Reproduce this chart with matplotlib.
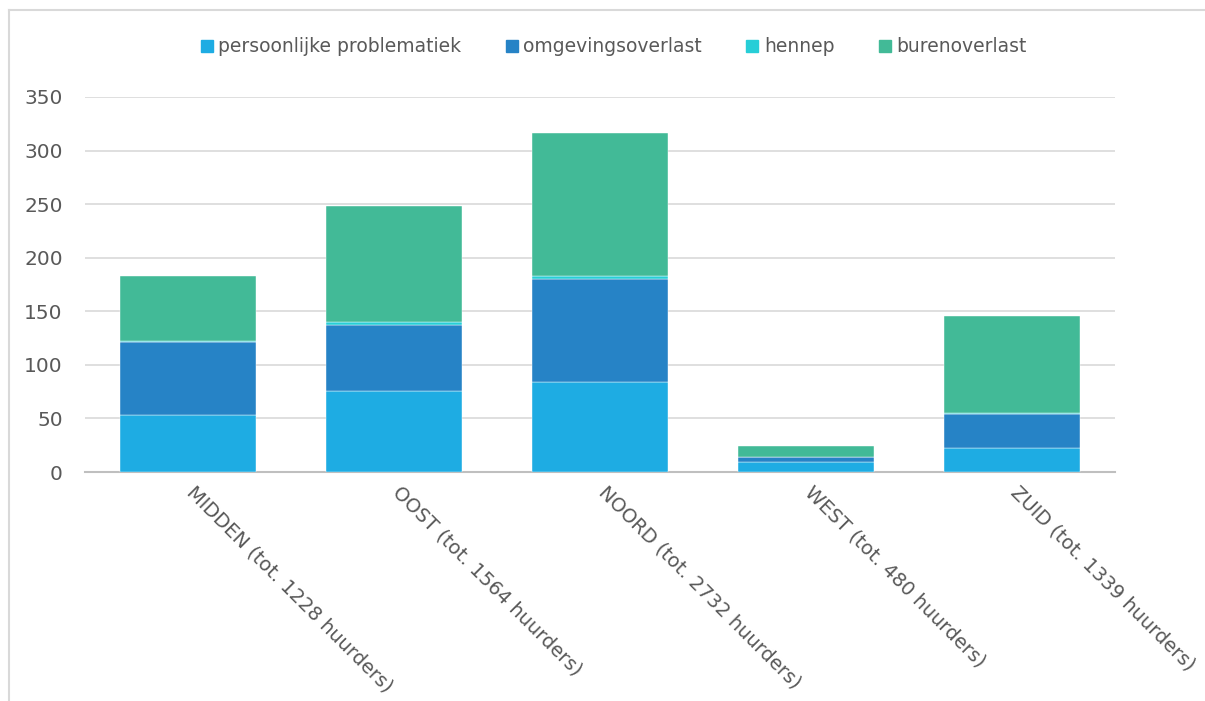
import matplotlib
matplotlib.use("Agg")
import matplotlib.pyplot as plt
from matplotlib.lines import Line2D
import matplotlib.transforms as mtransforms
import numpy as np

categories = ["MIDDEN (tot. 1228 huurders)", "OOST (tot. 1564 huurders)",
              "NOORD (tot. 2732 huurders)", "WEST (tot. 480 huurders)",
              "ZUID (tot. 1339 huurders)"]
series_names = ["persoonlijke problematiek", "omgevingsoverlast", "hennep", "burenoverlast"]
persoonlijke = [53, 76, 84, 9, 22]
omgeving = [68, 61, 96, 5, 32]
hennep = [1, 3, 3, 0, 1]
buren = [61, 108, 133, 10, 91]
yticks = [0, 50, 100, 150, 200, 250, 300, 350]

colors = ["#1EACE3", "#2683C6", "#27CED7", "#42BA97"]
text_color = "#595959"

plt.rcParams['font.family'] = ['DejaVu Sans']

W, H = 1205, 701
fig = plt.figure(figsize=(W / 100, H / 100), dpi=100)
ax = fig.add_axes([85 / W, (H - 472) / H, (1115 - 85) / W, (472 - 97) / H])

x = np.arange(len(categories))
bottom = np.zeros(len(categories))
for name, vals, c in zip(series_names, [persoonlijke, omgeving, hennep, buren], colors):
    v = np.array(vals, dtype=float)
    ax.bar(x, v, bottom=bottom, width=0.665, color=c, label=name,
           edgecolor="white", linewidth=0.3, zorder=3)
    bottom += v

ax.set_xlim(-0.5, len(categories) - 0.5)
ax.set_ylim(0, 350)
ax.set_yticks(yticks)
ax.set_yticklabels([str(t) for t in yticks], fontsize=14.5, color=text_color)
ax.tick_params(axis='y', length=0, pad=16)
ax.tick_params(axis='x', length=0, pad=8)
ax.set_xticks(x)
ax.set_xticklabels(categories, rotation=-45, ha='left', va='top',
                   rotation_mode='anchor', fontsize=14, color=text_color)
offset = mtransforms.ScaledTranslation(8 / 100, 0, fig.dpi_scale_trans)
for lbl in ax.get_xticklabels():
    lbl.set_transform(lbl.get_transform() + offset)

ax.grid(axis='y', color="#D9D9D9", linewidth=1.2, zorder=0)
ax.set_axisbelow(True)
for s in ['top', 'right', 'left']:
    ax.spines[s].set_visible(False)
ax.spines['bottom'].set_color("#BFBFBF")
ax.spines['bottom'].set_linewidth(1.5)

handles = [Line2D([0], [0], marker='s', color='none', markerfacecolor=c,
                  markeredgecolor=c, markersize=8) for c in colors]
leg = fig.legend(handles, series_names, loc='center', bbox_to_anchor=(614 / W, 1 - 47 / H),
                 ncol=4, frameon=False, fontsize=13.5, handlelength=0.55,
                 handletextpad=0.35, columnspacing=2.4)
for t in leg.get_texts():
    t.set_color(text_color)

# chart area border (left and top)
fig.add_artist(Line2D([8.5 / W, 8.5 / W], [0, 1 - 10 / H], transform=fig.transFigure,
                      color="#D9D9D9", linewidth=1.5))
fig.add_artist(Line2D([8.5 / W, 1], [1 - 10 / H, 1 - 10 / H], transform=fig.transFigure,
                      color="#D9D9D9", linewidth=1.5))

fig.savefig("out.png", dpi=100, facecolor="white")
